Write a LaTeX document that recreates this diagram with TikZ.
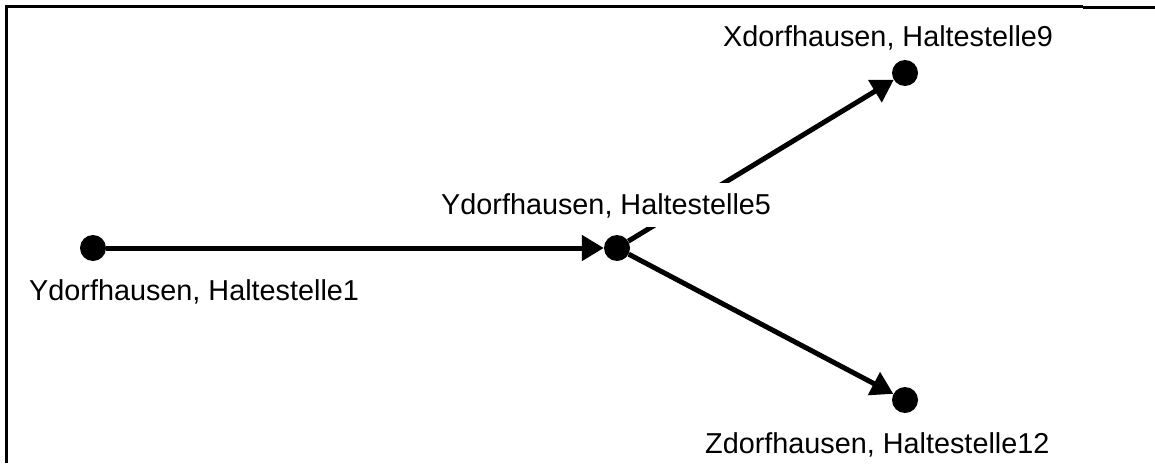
\documentclass[tikz,border=0pt]{standalone}
\usepackage{fontspec}
\setmainfont{Liberation Sans}
\usetikzlibrary{arrows.meta}
\begin{document}
\begin{tikzpicture}[x=1pt,y=-1pt,
  dot/.style={circle,fill=black,inner sep=0pt,minimum size=26pt},
  lbl/.style={anchor=base west,inner sep=0pt,font=\fontsize{28.8}{34}\selectfont},
  conn/.style={line width=5pt,-{Triangle[length=22pt,width=25pt]}},
  frameline/.style={line width=3pt}]
\useasboundingbox (0,0) rectangle (1155,463);
% frame
\draw[frameline] (6.5,463) -- (6.5,6.5) -- (1083,6.5);
\draw[frameline] (1083,7.5) -- (1155,7.5);
% stops
\node[dot] (n1) at (93,248) {};
\node[dot] (n5) at (617,248) {};
\node[dot] (n9) at (905,73) {};
\node[dot] (n12) at (905,400) {};
% connectors
\draw[conn] (n1) -- (n5);
\draw[conn] (n5) -- (n9);
\draw[conn] (n5) -- (n12);
% labels
\node[lbl] (l1) at (29,300) {Ydorfhausen, Haltestelle1};
\node[lbl,fill=white,inner ysep=10pt,inner xsep=4pt,text height=21pt,text depth=3pt,xshift=-4pt] (l5) at (441,214) {Ydorfhausen, Haltestelle5};
\node[lbl] (l9) at (723,46) {Xdorfhausen, Haltestelle9};
\node[lbl] (l12) at (705,453) {Zdorfhausen, Haltestelle12};
\end{tikzpicture}
\end{document}
